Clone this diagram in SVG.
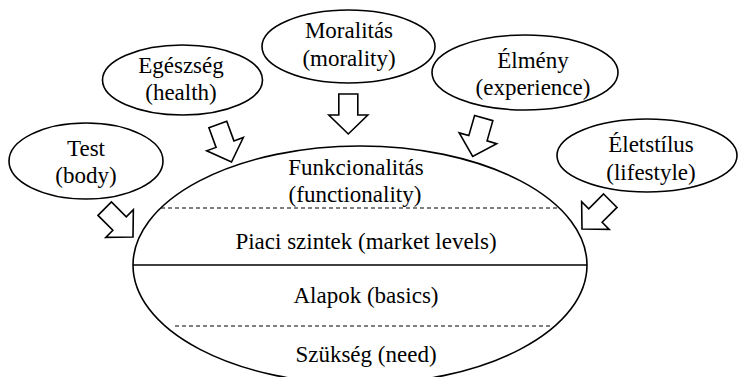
<svg xmlns="http://www.w3.org/2000/svg" xmlns:xlink="http://www.w3.org/1999/xlink" width="739" height="377" viewBox="0 0 739 377">
<style>
  .shape { fill: #ffffff; stroke: #000000; stroke-width: 1.6; }
  .arrow { fill: #ffffff; stroke: #000000; stroke-width: 1.6; stroke-linejoin: miter; }
  .dash { stroke: #000000; stroke-width: 1.1; stroke-dasharray: 4 3; fill: none; }
  .solid { stroke: #000000; stroke-width: 1.4; fill: none; }
</style>
<defs>
  <polygon id="blk" points="-9.5,-40 9.5,-40 9.5,-19 19.5,-19 0,0 -19.5,-19 -9.5,-19"/>
</defs>
<rect width="739" height="377" fill="#ffffff"/>

<g id="main">
  <ellipse class="shape" cx="360" cy="265" rx="227" ry="119"/>
  <line class="dash" x1="161" y1="208" x2="559" y2="208"/>
  <line class="solid" x1="133" y1="265" x2="587" y2="265"/>
  <line class="dash" x1="175" y1="326" x2="553" y2="326"/>
  <g font-family="Liberation Serif" font-size="23" text-anchor="middle" fill="#000000">
    <text x="356" y="175">Funkcionalitás</text>
    <text x="355" y="202">(functionality)</text>
    <text x="366" y="249">Piaci szintek (market levels)</text>
    <text x="366" y="303">Alapok (basics)</text>
    <text x="366" y="362">Szükség (need)</text>
  </g>
</g>

<g id="test">
  <ellipse class="shape" cx="86" cy="161" rx="77" ry="38"/>
  <g font-family="Liberation Serif" font-size="23" text-anchor="middle" fill="#000000">
    <text x="86" y="156">Test</text>
    <text x="86" y="183">(body)</text>
  </g>
</g>

<g id="egeszseg">
  <ellipse class="shape" cx="182.5" cy="80" rx="80" ry="35"/>
  <g font-family="Liberation Serif" font-size="23" text-anchor="middle" fill="#000000">
    <text x="181" y="73">Egészség</text>
    <text x="181" y="100">(health)</text>
  </g>
</g>

<g id="moralitas">
  <ellipse class="shape" cx="348.5" cy="46.5" rx="86.5" ry="36.5"/>
  <g font-family="Liberation Serif" font-size="23" text-anchor="middle" fill="#000000">
    <text x="349" y="38">Moralitás</text>
    <text x="349" y="66">(morality)</text>
  </g>
</g>

<g id="elmeny">
  <ellipse class="shape" cx="525" cy="72.5" rx="93" ry="37.5"/>
  <g font-family="Liberation Serif" font-size="23" text-anchor="middle" fill="#000000">
    <text x="533" y="68">Élmény</text>
    <text x="533" y="95">(experience)</text>
  </g>
</g>

<g id="eletstilus">
  <ellipse class="shape" cx="647" cy="155.5" rx="90" ry="36.5"/>
  <g font-family="Liberation Serif" font-size="23" text-anchor="middle" fill="#000000">
    <text x="651" y="152">Életstílus</text>
    <text x="651" y="180">(lifestyle)</text>
  </g>
</g>

<g id="connectors">
  <use xlink:href="#blk" class="arrow" transform="translate(133,237) rotate(-45)"/>
  <use xlink:href="#blk" class="arrow" transform="translate(231.5,162) rotate(-20)"/>
  <use xlink:href="#blk" class="arrow" transform="translate(348.3,134)"/>
  <use xlink:href="#blk" class="arrow" transform="translate(472.7,156.5) rotate(16)"/>
  <use xlink:href="#blk" class="arrow" transform="translate(582,229) rotate(45)"/>
</g>
</svg>
